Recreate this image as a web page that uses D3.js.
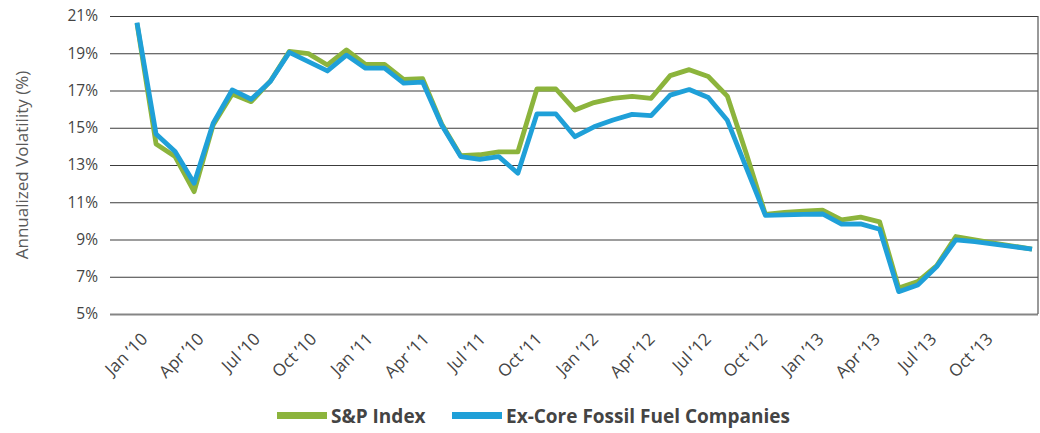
<!DOCTYPE html>
<html>
<head>
<meta charset="utf-8">
<script src="https://cdn.jsdelivr.net/npm/d3@7"></script>
<style>
  body { margin: 0; background: #fff; }
  text { font-family: "Open Sans", sans-serif; }
</style>
</head>
<body>
<div id="chart"></div>
<script>
// monthly categories, Jan 2010 .. Dec 2013
var months = [
  "Jan ’10","Feb ’10","Mar ’10","Apr ’10","May ’10","Jun ’10","Jul ’10","Aug ’10","Sep ’10","Oct ’10","Nov ’10","Dec ’10",
  "Jan ’11","Feb ’11","Mar ’11","Apr ’11","May ’11","Jun ’11","Jul ’11","Aug ’11","Sep ’11","Oct ’11","Nov ’11","Dec ’11",
  "Jan ’12","Feb ’12","Mar ’12","Apr ’12","May ’12","Jun ’12","Jul ’12","Aug ’12","Sep ’12","Oct ’12","Nov ’12","Dec ’12",
  "Jan ’13","Feb ’13","Mar ’13","Apr ’13","May ’13","Jun ’13","Jul ’13","Aug ’13","Sep ’13","Oct ’13","Nov ’13","Dec ’13"
];

// labelled months on the x axis
var xTickLabels = [
  "Jan ’10","Apr ’10","Jul ’10","Oct ’10","Jan ’11","Apr ’11","Jul ’11","Oct ’11",
  "Jan ’12","Apr ’12","Jul ’12","Oct ’12","Jan ’13","Apr ’13","Jul ’13","Oct ’13"
];

var yTicks = [5, 7, 9, 11, 13, 15, 17, 19, 21];

// annualized volatility (%)
var spIndex = [20.6, 14.13, 13.45, 11.57, 15.15, 16.81, 16.4, 17.5, 19.1, 18.98, 18.37, 19.18,
               18.4, 18.4, 17.6, 17.64, 15.2, 13.5, 13.55, 13.7, 13.7, 17.08, 17.08, 15.95,
               16.35, 16.58, 16.68, 16.58, 17.8, 18.12, 17.75, 16.7, 13.6, 10.35, 10.45, 10.52,
               10.58, 10.05, 10.2, 9.95, 6.4, 6.74, 7.6, 9.16, 8.98, 8.8, 8.65, 8.48];

var exCore = [20.64, 14.67, 13.72, 12.02, 15.24, 17.03, 16.53, 17.48, 19.05, 18.55, 18.05, 18.9,
              18.2, 18.2, 17.4, 17.45, 15.15, 13.45, 13.3, 13.45, 12.56, 15.74, 15.74, 14.52,
              15.05, 15.42, 15.72, 15.65, 16.75, 17.05, 16.62, 15.4, 12.85, 10.3, 10.32, 10.35,
              10.37, 9.83, 9.84, 9.55, 6.2, 6.56, 7.55, 8.98, 8.88, 8.75, 8.62, 8.48];

var seriesNames = ["S&P Index", "Ex-Core Fossil Fuel Companies"];
var colors = ["#8cb43c", "#1fa0d8"];

var W = 1040, H = 433;
var plot = {left: 110, right: 1038, top: 16, bottom: 314};

var svg = d3.select("#chart")
  .append("svg")
    .attr("width", W)
    .attr("height", H);

var x = d3.scalePoint()
  .domain(months)
  .range([137, 1032]);

// label positions are spaced a little tighter than the points
var xLabel = x.copy().range([136, 1019]);

var y = d3.scaleLinear()
  .domain([5, 21])
  .range([plot.bottom, plot.top]);

// y axis with gridlines
var yAxis = svg.append("g")
  .attr("transform", "translate(" + plot.left + ",0)")
  .call(d3.axisLeft(y)
    .tickValues(yTicks)
    .tickSize(-(plot.right - plot.left))
    .tickPadding(12)
    .tickFormat(d => d + "%"));
yAxis.select(".domain").remove();
yAxis.selectAll(".tick line")
  .attr("stroke", d => d == 5 ? "#858585" : "#3c3c3c")
  .attr("stroke-width", d => d == 5 ? 2 : 1.1);
yAxis.selectAll(".tick text")
  .attr("fill", "#444")
  .style("font-size", "15.5px");

// right border
svg.append("line")
  .attr("x1", plot.right).attr("x2", plot.right)
  .attr("y1", plot.top).attr("y2", plot.bottom)
  .attr("stroke", "#555")
  .attr("stroke-width", 1.2);

// x axis, rotated labels
var xAxis = svg.append("g")
  .attr("transform", "translate(0," + plot.bottom + ")")
  .call(d3.axisBottom(xLabel).tickValues(xTickLabels).tickSize(0));
xAxis.select(".domain").remove();
xAxis.selectAll(".tick text")
  .attr("text-anchor", "end")
  .attr("x", -10)
  .attr("y", 27)
  .attr("dy", 0)
  .attr("transform", "rotate(-45)")
  .attr("fill", "#444")
  .style("font-size", "17px");

// y axis title
svg.append("text")
  .attr("transform", "rotate(-90)")
  .attr("x", -(plot.top + plot.bottom) / 2)
  .attr("y", 28)
  .attr("text-anchor", "middle")
  .attr("fill", "#595959")
  .style("font-size", "17px")
  .text("Annualized Volatility (%)");

// lines
var line = d3.line()
  .x((d, i) => x(months[i]))
  .y(d => y(d));

[spIndex, exCore].forEach(function(vals, k) {
  svg.append("path")
    .datum(vals)
    .attr("fill", "none")
    .attr("stroke", colors[k])
    .attr("stroke-width", 4.8)
    .attr("stroke-linejoin", "round")
    .attr("d", line);
});

// legend
var legendX = [277, 452];
var legend = svg.append("g");
seriesNames.forEach(function(name, k) {
  legend.append("rect")
    .attr("x", legendX[k])
    .attr("y", 412)
    .attr("width", 50)
    .attr("height", 7)
    .attr("fill", colors[k]);
  legend.append("text")
    .attr("x", legendX[k] + 54)
    .attr("y", 423)
    .attr("fill", "#444")
    .style("font-size", "19px")
    .style("font-weight", "bold")
    .text(name);
});
</script>
</body>
</html>
